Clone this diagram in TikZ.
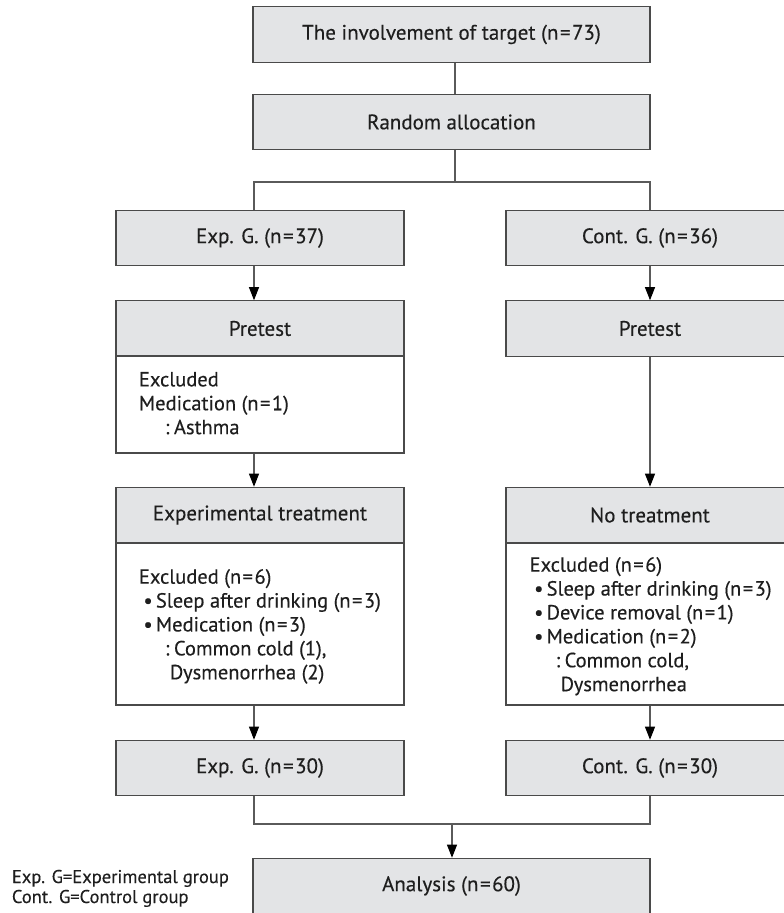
\documentclass[tikz,border=0pt]{standalone}
\usepackage{fontspec}
\setmainfont{PT Sans}[FakeBold=0.3]
\usetikzlibrary{arrows.meta,calc}
\definecolor{boxgray}{HTML}{E3E4E6}
\definecolor{bordc}{HTML}{4A4A4A}
\definecolor{linec}{HTML}{5A5A5A}
\definecolor{txtc}{HTML}{1E1E1E}
\newcommand{\eqs}{\kern1.5pt=\kern1.5pt}
\newcommand{\bul}{\hspace*{4.5pt}\makebox[12.5pt][l]{\textbullet}}
\newcommand{\cln}{\hspace*{26pt}\makebox[9pt][l]{:}}
\newcommand{\dys}{\hspace*{31pt}}
\begin{document}
\begin{tikzpicture}[x=1pt,y=-1pt,
  hdr/.style={draw=bordc, fill=boxgray, line width=1.1pt, minimum height=55.5pt,
    inner sep=0pt, font=\fontsize{21}{24}\selectfont, text=txtc},
  wide/.style={minimum width=397pt},
  narrow/.style={minimum width=288pt},
  exbox/.style={draw=bordc, fill=white, line width=1.1pt, minimum width=288pt, inner sep=0pt},
  extext/.style={anchor=north west, inner sep=0pt, align=left, text=txtc,
    font=\fontsize{20.5}{23.9}\selectfont},
  legend/.style={anchor=base west, inner sep=0pt, text=txtc, font=\fontsize{18.5}{20}\selectfont},
  conn/.style={draw=linec, line width=1.1pt},
  arr/.style={conn, -{Triangle[width=10pt,length=13pt,color=black]}}]
\useasboundingbox (0,0) rectangle (784,913);
\clip (0,0) rectangle (784,913);
% coordinates for connector columns
\coordinate (spine) at (455,0);
\coordinate (lx) at (254,0);
\coordinate (br) at (455,182);
\coordinate (mg) at (452,824);
% boxes
\node[hdr, wide] (top) at (451.5,34.5) {The involvement of target (n\eqs73)};
\node[hdr, wide] (rand) at (451.5,122) {Random allocation};
\node[hdr, narrow] (eg1) at (260,238) {Exp. G. (n\eqs37)};
\node[hdr, narrow] (cg1) at (650,238) {Cont. G. (n\eqs36)};
\node[hdr, narrow] (pl) at (260,328.5) {Pretest};
\node[hdr, narrow] (pr) at (650,328.5) {Pretest};
\node[exbox, minimum height=97pt] (xl1) at (260,404.5) {};
\node[hdr, narrow] (et) at (260,515) {Experimental treatment};
\node[hdr, narrow] (nt) at (650,515) {No treatment};
\node[exbox, minimum height=162pt] (xl2) at (260,624) {};
\node[exbox, minimum height=162pt] (xr2) at (650,624) {};
\node[hdr, narrow] (eg2) at (260,768) {Exp. G. (n\eqs30)};
\node[hdr, narrow] (cg2) at (650,768) {Cont. G. (n\eqs30)};
\node[hdr, wide] (an) at (451.5,886) {Analysis (n\eqs60)};
% texts of excluded boxes
\node[extext] (t1) at ($(xl1.north west)+(23.3,10.7)$)
  {\rule{0pt}{20pt}Excluded\\ Medication (n\eqs1)\\ \cln Asthma};
\node[extext] (t2) at ($(xl2.north west)+(23.3,21)$)
  {\rule{0pt}{20pt}Excluded (n\eqs6)\\ \bul Sleep after drinking (n\eqs3)\\ \bul Medication (n\eqs3)\\
   \cln Common cold (1),\\ \dys Dysmenorrhea (2)};
\node[extext] (t3) at ($(xr2.north west)+(24,9)$)
  {\rule{0pt}{20pt}Excluded (n\eqs6)\\ \bul Sleep after drinking (n\eqs3)\\ \bul Device removal (n\eqs1)\\
   \bul Medication (n\eqs2)\\ \cln Common cold,\\ \dys Dysmenorrhea};
% legend
\node[legend] (leg1) at (11.7,883) {Exp. G=Experimental group};
\node[legend] (leg2) at (11.7,903) {Cont. G=Control group};
% connectors
\draw[conn] (top.south -| spine) -- (rand.north -| spine);
\draw[conn] (rand.south -| spine) -- (br);
\draw[conn] (lx |- eg1.north) |- (br) -| (cg1.north);
\draw[arr] (lx |- eg1.south) -- (lx |- pl.north);
\draw[arr] (lx |- xl1.south) -- (lx |- et.north);
\draw[arr] (lx |- xl2.south) -- (lx |- eg2.north);
\draw[arr] (cg1.south) -- (pr.north);
\draw[arr] (pr.south) -- (nt.north);
\draw[arr] (xr2.south) -- (cg2.north);
\draw[conn] (lx |- eg2.south) |- (cg2.south |- mg) -- (cg2.south);
\draw[arr] (mg) -- (mg |- an.north);
\end{tikzpicture}
\end{document}
